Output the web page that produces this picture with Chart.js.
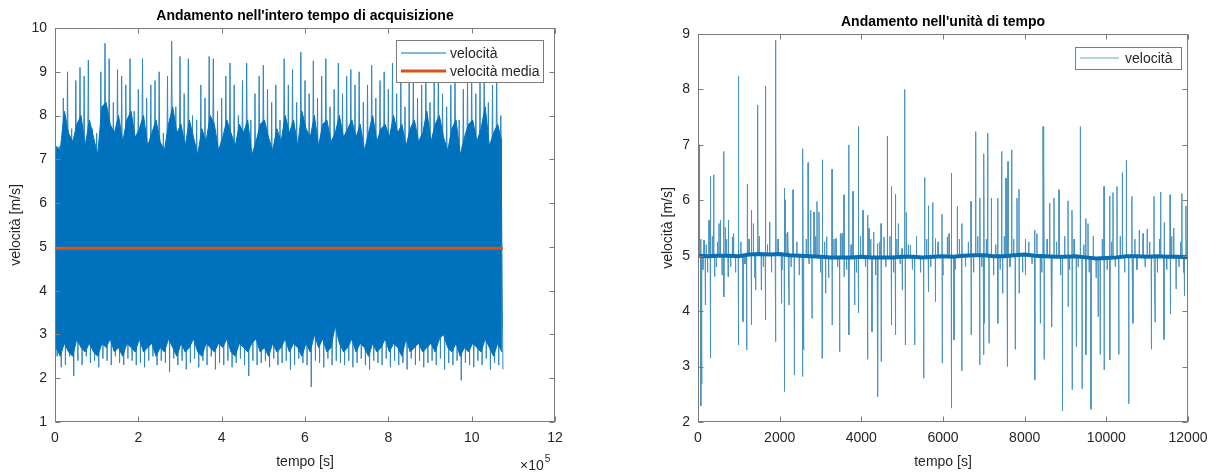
<!DOCTYPE html>
<html><head><meta charset="utf-8">
<script src="https://cdn.jsdelivr.net/npm/chart.js@4.4.0/dist/chart.umd.min.js"></script>
<style>
html,body{margin:0;padding:0;background:#fff;width:1220px;height:476px;overflow:hidden}
#c1{position:absolute;left:0;top:0}
#c2{position:absolute;left:610px;top:0}
</style></head><body>
<canvas id="c1" width="610" height="476"></canvas>
<canvas id="c2" width="610" height="476"></canvas>
<script>
// ===== Grafico sinistro: intero tempo di acquisizione =====
const passoSx = 10000;      // s per gruppo di campioni rappresentato
const piccoSup = [
8.9,7.3,8.4,9.0,7.7,8.8,9.1,8.9,9.27,7.7,
7.6,9.0,9.65,9.3,8.3,9.05,8.9,8.7,9.3,8.1,
8.6,9.3,8.4,8.7,8.8,9.0,7.6,8.9,9.7,8.2,
9.35,8.5,9.3,8.0,7.9,8.7,8.4,9.35,9.3,8.1,
8.4,8.9,9.2,8.7,8.0,8.8,9.2,7.9,8.5,8.9,
9.15,8.6,8.3,8.7,7.9,9.3,8.7,9.05,8.3,9.45,
8.8,8.5,9.25,8.4,8.9,9.3,8.2,8.6,9.2,8.5,
8.9,9.05,8.7,9.0,8.3,8.7,9.15,8.4,8.8,9.0,
8.6,9.2,8.5,8.9,8.2,8.8,9.0,8.4,8.7,9.1,
8.3,8.8,9.1,8.5,8.2,8.7,9.0,7.9,8.6,8.9,
9.0,8.5,8.8,9.1,8.3,8.7,9.05,8.0];
const piccoInf = [
2.5,2.25,2.3,2.5,2.05,2.4,2.3,2.5,2.35,2.4,
2.25,2.45,2.4,2.3,2.5,2.35,2.3,2.45,2.4,2.3,
2.35,2.25,2.4,2.5,2.3,2.4,2.35,2.15,2.45,2.3,
2.4,2.2,2.35,2.45,2.25,2.4,2.3,2.5,2.2,2.35,
2.3,2.4,2.25,2.35,2.45,2.3,2.05,2.4,2.3,2.35,
2.4,2.25,2.45,2.3,2.35,2.4,2.2,2.3,2.45,2.35,
2.3,1.8,2.4,2.35,2.25,2.45,2.3,2.4,2.35,2.3,
2.4,2.25,2.35,2.45,2.3,2.2,2.4,2.35,2.3,2.45,
2.25,2.4,2.3,2.35,2.2,2.45,2.3,2.4,2.25,2.35,
2.4,2.3,2.45,2.2,2.35,2.3,2.4,1.95,2.35,2.3,
2.25,2.4,2.3,2.45,2.2,2.35,2.3,2.2];
const corpoSup = [
7.3,7.2,8.1,7.6,7.4,7.8,8.0,7.3,7.9,7.5,
7.1,8.2,8.3,7.8,7.6,8.0,7.4,7.9,8.1,7.5,
7.7,8.0,7.3,7.6,7.9,7.4,7.2,7.8,8.2,7.6,
7.8,7.3,7.9,7.5,7.1,7.7,7.4,8.0,7.8,7.2,
7.5,7.9,7.6,7.3,7.8,7.6,7.9,7.1,7.4,7.8,
7.9,7.5,7.2,7.7,7.4,8.0,7.6,7.9,7.3,8.1,
7.7,7.5,8.0,7.3,7.8,7.9,7.4,7.6,8.0,7.5,
7.7,7.9,7.5,7.8,7.2,7.6,8.0,7.4,7.7,7.8,
7.5,8.0,7.6,7.8,7.3,7.7,7.9,7.4,7.6,8.1,
7.4,7.8,8.0,7.5,7.2,7.7,7.9,7.1,7.5,7.8,
7.9,7.4,7.7,8.2,7.3,7.6,7.8,7.4];
const corpoInf = [
2.7,2.5,2.8,2.6,2.5,2.9,2.7,2.6,2.8,2.6,
2.5,2.8,2.7,2.9,2.6,2.7,2.5,2.8,2.7,2.6,
2.9,2.6,2.7,2.8,2.5,2.7,2.6,2.9,2.7,2.5,
2.8,2.6,2.7,2.9,2.6,2.5,2.8,2.7,2.6,2.8,
2.7,2.9,2.6,2.5,2.8,2.7,2.6,2.8,2.9,2.6,
2.7,2.5,2.8,2.6,2.7,2.9,2.6,2.8,2.7,2.5,
2.8,2.6,3.0,2.7,2.9,2.6,2.7,3.2,2.8,2.6,
2.7,2.9,2.6,2.8,2.7,2.5,2.8,2.6,2.7,2.9,
2.6,2.8,2.7,2.5,2.9,2.6,2.7,2.8,2.6,2.7,
2.8,2.6,2.9,3.0,2.7,2.6,2.8,2.5,2.7,2.6,
2.8,2.7,2.6,2.9,2.7,2.5,2.8,2.6];
const velMedia = 4.97;
const tickXsx = [0,200000,400000,600000,800000,1000000,1200000];
const tickYsx = [1,2,3,4,5,6,7,8,9,10];

// ===== Grafico destro: unità di tempo =====
const passoBase = 250;
const baseValori = [5.00,4.99,5.00,5.00,4.99,5.02,5.03,5.02,5.03,5.01,5.00,4.99,4.98,4.97,4.97,4.97,4.98,4.97,4.97,4.97,4.98,4.98,4.97,4.98,4.99,4.98,5.00,5.01,5.01,4.99,4.99,5.01,5.02,5.00,4.99,4.98,4.98,4.99,4.97,4.95,4.96,4.97,4.99,4.99,4.98,4.99,4.98,4.98,4.97];
const suTempi = [25,65,147,270,302,384,514,547,629,669,751,841,988,1208,1306,1355,1453,1469,1657,1755,1894,1910,2114,2139,2204,2327,2571,2694,2759,2841,2914,2963,3053,3151,3282,3380,3486,3576,3690,3796,3927,4041,4163,4188,4302,4392,4482,4555,4637,4735,4833,4906,4996,5061,5102,5200,5551,5641,5747,5812,5975,6106,6204,6351,6465,6686,6800,6906,7004,7094,7184,7339,7437,7543,7592,7682,7812,7861,8016,8245,8449,8473,8612,8718,8841,9061,9159,9363,9494,9551,9943,10082,10163,10261,10392,10490,10626,10806,11000,11167,11330,11420,11560,11650,11850,11950];
const suValori = [7.0,5.3,5.28,5.64,6.43,6.46,5.58,5.64,6.88,5.51,5.64,5.34,8.24,6.29,5.82,5.58,7.72,5.95,8.06,5.61,8.89,7.24,6.22,6.01,5.43,6.19,6.93,6.68,5.82,5.79,5.98,5.79,6.73,5.34,6.56,5.31,5.40,6.10,7.0,6.16,7.33,5.82,5.73,5.49,5.43,5.22,5.58,5.34,7.16,6.25,6.11,5.58,5.13,8.0,5.78,5.19,6.41,5.90,5.96,5.31,5.75,5.34,6.49,5.89,5.58,5.98,7.24,6.04,6.84,7.21,6.04,6.04,6.88,6.40,6.70,6.91,6.04,6.20,5.30,5.46,7.33,6.61,5.95,6.04,6.19,5.99,5.82,7.33,5.67,5.58,6.25,6.08,6.14,6.25,6.5,6.72,6.07,5.46,5.48,6.07,6.15,5.6,6.1,5.5,6.12,5.9];
const giuTempi = [72,92,180,310,408,635,735,995,1102,1192,1312,1412,1551,1649,1902,2041,2120,2229,2359,2555,2588,2792,3037,3126,3288,3469,3580,3697,3837,3933,4149,4261,4405,4490,4741,4840,5008,5078,5306,5527,5646,5818,5980,6210,6269,6460,6692,6898,6990,7012,7127,7345,7461,7572,7770,7867,8022,8250,8384,8479,8669,8925,9067,9166,9265,9406,9502,9624,9800,9850,9950,10088,10305,10550,10653,11103,11194,11410,11573,11708,11915];
const giuValori = [2.29,2.69,4.11,3.15,4.62,4.26,4.62,3.39,3.81,3.30,3.75,4.38,4.38,3.84,3.45,4.14,2.55,4.11,2.85,2.82,3.30,3.87,3.15,4.32,3.75,3.27,4.62,3.57,4.11,3.97,3.13,3.63,2.46,3.09,3.75,3.57,4.38,3.39,3.39,2.79,4.35,4.17,3.06,2.25,3.48,2.92,3.57,3.03,3.21,3.78,3.42,3.78,4.32,3.0,3.31,4.32,4.65,2.76,3.78,3.13,3.72,2.2,4.08,2.58,3.36,2.6,3.21,2.23,3.9,3.22,2.94,3.12,3.22,2.33,3.78,3.31,3.8,3.49,3.95,4.4,4.28];
const minoriTempi = [40,120,200,235,350,450,480,590,700,800,870,920,1050,1150,1250,1390,1500,1600,1700,1800,1960,2060,2180,2280,2420,2480,2650,2720,2880,3000,3100,3200,3330,3420,3530,3640,3750,3880,3980,4100,4230,4350,4450,4600,4700,4790,4870,4950,5150,5250,5350,5450,5600,5700,5880,6000,6150,6300,6400,6550,6620,6750,6850,6950,7060,7240,7290,7400,7500,7640,7730,7950,8100,8180,8300,8420,8550,8650,8780,8880,8980,9100,9210,9310,9450,9580,9680,9750,9900,10020,10130,10220,10340,10450,10700,10750,10900,10950,11060,11250,11300,11480,11600,11780,11820,11900,11980];
const minoriValori = [5.3,4.75,5.2,4.7,5.35,4.8,5.25,4.65,5.3,4.8,5.4,4.7,5.25,4.85,5.3,4.6,5.35,4.8,5.2,4.7,5.3,4.75,5.4,4.8,5.25,4.65,5.3,4.85,5.35,4.7,5.25,4.6,5.3,4.8,5.4,4.75,5.2,4.7,5.35,4.8,5.3,4.65,5.25,4.8,5.35,4.7,5.3,4.85,5.2,4.75,5.35,4.7,5.3,4.8,5.25,4.65,5.4,4.75,5.3,4.8,5.25,4.7,5.35,4.8,5.3,4.65,5.2,4.75,5.35,4.8,5.3,4.7,5.25,4.85,5.4,4.7,5.3,4.8,5.25,4.65,5.35,4.75,5.3,4.8,5.2,4.7,5.35,4.6,5.3,4.75,5.25,4.8,5.35,4.7,5.3,4.75,5.4,4.8,5.25,4.7,5.3,4.75,5.35,4.8,5.25,4.7,5.3];
const tickXdx = [0,2000,4000,6000,8000,10000,12000];
const tickYdx = [2,3,4,5,6,7,8,9];

// ===== Stile =====
const FONT = "'Liberation Sans', Arial, Helvetica, sans-serif";
Chart.defaults.font.family = FONT;
Chart.defaults.color = '#262626';
const BLU = '#0072BD', ARANCIO = '#D95319', GRIGIO = '#7a7a7a';

const stileMatlab = {
  id: 'stileMatlab',
  afterLayout(chart) {
    const tb = chart.titleBlock, a = chart.chartArea;
    if (tb) { tb.left = a.left; tb.right = a.right; tb.width = a.right - a.left; }
  },
  afterDraw(chart, args, o) {
    const {ctx, chartArea: a} = chart;
    const x = chart.scales.x, y = chart.scales.y;
    ctx.save();
    ctx.strokeStyle = GRIGIO; ctx.lineWidth = 1;
    const L = Math.round(a.left) + 0.5, R = Math.round(a.right) - 0.5;
    const T = Math.round(a.top) + 0.5, B = Math.round(a.bottom) - 0.5;
    ctx.strokeRect(L, T, R - L, B - T);
    const tl = 5;
    ctx.beginPath();
    o.tickX.forEach(v => { const p = Math.round(x.getPixelForValue(v)) + 0.5;
      ctx.moveTo(p, B); ctx.lineTo(p, B - tl); ctx.moveTo(p, T); ctx.lineTo(p, T + tl); });
    o.tickY.forEach(v => { const p = Math.round(y.getPixelForValue(v)) + 0.5;
      ctx.moveTo(L, p); ctx.lineTo(L + tl, p); ctx.moveTo(R, p); ctx.lineTo(R - tl, p); });
    ctx.stroke();
    // legenda
    const g = o.legenda;
    ctx.fillStyle = '#fff';
    ctx.fillRect(g.box[0], g.box[1], g.box[2] - g.box[0], g.box[3] - g.box[1]);
    ctx.strokeStyle = GRIGIO;
    ctx.strokeRect(g.box[0] + 0.5, g.box[1] + 0.5, g.box[2] - g.box[0], g.box[3] - g.box[1]);
    ctx.font = '14px ' + FONT; ctx.textBaseline = 'middle'; ctx.textAlign = 'left';
    g.voci.forEach(v => {
      ctx.strokeStyle = v.colore; ctx.lineWidth = v.spessore;
      ctx.beginPath(); ctx.moveTo(g.linea[0], v.y); ctx.lineTo(g.linea[1], v.y); ctx.stroke();
      ctx.fillStyle = '#262626'; ctx.fillText(v.testo, g.testoX, v.y + 1);
    });
    if (o.esponente) {
      const e = o.esponente;
      ctx.fillStyle = '#262626';
      ctx.font = '14px ' + FONT; ctx.fillText('×10', e.x, e.y);
      const w = ctx.measureText('×10').width;
      ctx.font = '10px ' + FONT; ctx.fillText('5', e.x + w + 1, e.y - 7);
    }
    ctx.restore();
  }
};

function assi(o) {
  return {
    x: { type: 'linear', min: o.xmin, max: o.xmax,
      afterBuildTicks: s => { s.ticks = o.tickX.map(v => ({value: v})); },
      ticks: { padding: 8, font: {size: 14}, maxRotation: 0, autoSkip: false, callback: o.fmtX },
      grid: { display: false, drawTicks: false }, border: { display: false },
      title: { display: true, text: 'tempo [s]', font: {size: 14}, padding: {top: 0, bottom: 5} },
      afterFit: s => { s.height = 54; } },
    y: { min: o.ymin, max: o.ymax,
      afterBuildTicks: s => { s.ticks = o.tickY.map(v => ({value: v})); },
      ticks: { padding: 8, font: {size: 14}, callback: v => String(v) },
      grid: { display: false, drawTicks: false }, border: { display: false },
      title: { display: true, text: 'velocità [m/s]', font: {size: 14}, padding: {top: o.ytPad, bottom: 0} },
      afterFit: s => { s.width = o.yw; } }
  };
}

// ---- dataset sinistro
const serieSxPicchi = [], serieSxAlto = [], serieSxBasso = [];
piccoSup.forEach((v, i) => {
  const t = i * passoSx;
  serieSxPicchi.push({x: t, y: v}, {x: t + passoSx / 2, y: piccoInf[i]});
  serieSxAlto.push({x: t + passoSx / 4, y: corpoSup[i]});
  serieSxBasso.push({x: t + passoSx / 4, y: corpoInf[i]});
});
const tFine = (piccoSup.length - 1) * passoSx + passoSx / 2;
new Chart(document.getElementById('c1'), {
  type: 'line',
  data: { datasets: [
    { label: 'velocità', data: serieSxPicchi, borderColor: '#2f86c2', borderWidth: 1, pointRadius: 0, tension: 0, fill: false, order: 3 },
    { label: 'corpo alto', data: serieSxAlto, borderColor: BLU, borderWidth: 1, backgroundColor: BLU, pointRadius: 0, tension: 0, fill: '+1', order: 2 },
    { label: 'corpo basso', data: serieSxBasso, borderColor: BLU, borderWidth: 1, pointRadius: 0, tension: 0, fill: false, order: 2 },
    { label: 'velocità media', data: [{x: 0, y: velMedia}, {x: tFine, y: velMedia}], borderColor: ARANCIO, borderWidth: 3, pointRadius: 0, fill: false, order: 0 }
  ]},
  options: {
    responsive: false, animation: false, events: [], parsing: false,
    layout: { padding: {left: 0, right: 55, top: 0, bottom: 0} },
    plugins: {
      legend: { display: false }, tooltip: { enabled: false },
      filler: { drawTime: 'beforeDatasetDraw' },
      title: { display: true, text: "Andamento nell'intero tempo di acquisizione", color: '#000', font: {size: 14, weight: 'bold'}, padding: {top: 7.6, bottom: 3.6} },
      stileMatlab: { tickX: tickXsx, tickY: tickYsx,
        legenda: { box: [396, 40, 543, 82], linea: [401, 446], testoX: 450,
          voci: [ {testo: 'velocità', colore: BLU, spessore: 1, y: 53}, {testo: 'velocità media', colore: ARANCIO, spessore: 3, y: 71} ] },
        esponente: { x: 520, y: 466 } }
    },
    scales: assi({ xmin: 0, xmax: 1200000, ymin: 1, ymax: 10, tickX: tickXsx, tickY: tickYsx, fmtX: v => String(v / 100000), yw: 55, ytPad: 8 })
  },
  plugins: [stileMatlab]
});

// ---- dataset destro
const picchi = [];
suTempi.forEach((t, i) => picchi.push([t, suValori[i]]));
giuTempi.forEach((t, i) => picchi.push([t, giuValori[i]]));
minoriTempi.forEach((t, i) => picchi.push([t, minoriValori[i]]));
picchi.sort((a, b) => a[0] - b[0]);
const baseIn = t => baseValori[Math.min(baseValori.length - 1, Math.round(t / passoBase))];
const serieDx = [{x: 0, y: baseValori[0]}];
picchi.forEach(([t, v]) => {
  serieDx.push({x: t - 4, y: baseIn(t)}, {x: t, y: v}, {x: t + 4, y: baseIn(t)});
});
serieDx.push({x: 12000, y: baseValori[baseValori.length - 1]});
new Chart(document.getElementById('c2'), {
  type: 'line',
  data: { datasets: [
    { label: 'velocità', data: serieDx, borderColor: '#4a93bf', borderWidth: 1, pointRadius: 0, tension: 0, fill: false, order: 1 },
    { label: 'base', data: baseValori.map((v, i) => ({x: i * passoBase, y: v})), borderColor: '#0a6fb2', borderWidth: 4, pointRadius: 0, tension: 0, fill: false, order: 0 }
  ]},
  options: {
    responsive: false, animation: false, events: [], parsing: false,
    layout: { padding: {left: 0, right: 32, top: 0, bottom: 0} },
    plugins: {
      legend: { display: false }, tooltip: { enabled: false },
      title: { display: true, text: "Andamento nell'unità di tempo", color: '#000', font: {size: 14, weight: 'bold'}, padding: {top: 13.6, bottom: 3.6} },
      stileMatlab: { tickX: tickXdx, tickY: tickYdx,
        legenda: { box: [465, 47, 571, 69], linea: [470, 509], testoX: 515,
          voci: [ {testo: 'velocità', colore: '#6aa6c4', spessore: 1, y: 58} ] } }
    },
    scales: assi({ xmin: 0, xmax: 12000, ymin: 2, ymax: 9, tickX: tickXdx, tickY: tickYdx, fmtX: v => String(v), yw: 88, ytPad: 49.6 })
  },
  plugins: [stileMatlab]
});
</script>
</body></html>
